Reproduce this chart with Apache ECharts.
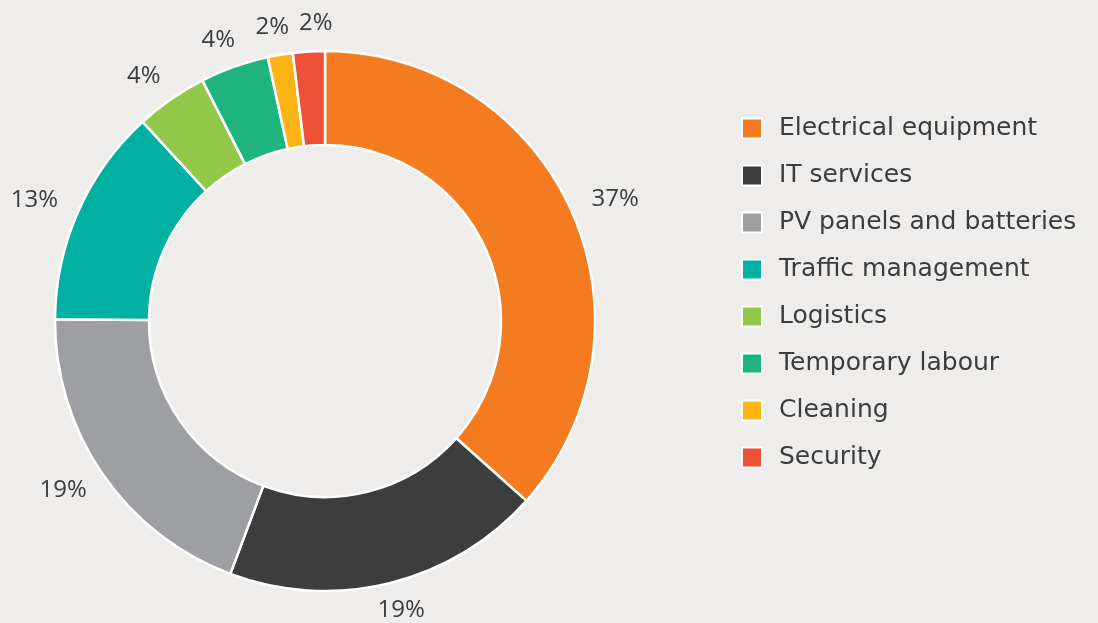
<!DOCTYPE html>
<html>
<head>
<meta charset="utf-8">
<script src="https://cdn.jsdelivr.net/npm/echarts@6/dist/echarts.min.js"></script>
<style>
html, body { margin: 0; padding: 0; background: #eeedeb; }
#main { width: 1098px; height: 623px; }
</style>
</head>
<body>
<div id="main"></div>
<script>
// categories, shares and the printed percentage labels
var categories = ['Electrical equipment', 'IT services', 'PV panels and batteries', 'Traffic management',
  'Logistics', 'Temporary labour', 'Cleaning', 'Security'];
var shares = [36.6, 19.1, 19.4, 13.1, 4.3, 4.1, 1.5, 1.9];
var shareLabels = ['37%', '19%', '19%', '13%', '4%', '4%', '2%', '2%'];
var colors = ['#f47b20', '#3d3d3d', '#9d9fa2', '#00b0a0', '#92c84a', '#1db47f', '#fdb515', '#ef5136'];

var CX = 325, CY = 321;
// labels sit on a slightly flattened ring outside the donut
var LABEL_RX = 318, LABEL_RY = 298;
var LABEL_FONT_SIZE = 24;
var LABEL_FONT = '"Open Sans", sans-serif';
var LABEL_GAP = 10;

var total = shares.reduce(function (a, b) { return a + b; }, 0);
function midDir(i) {
  var before = 0;
  for (var k = 0; k < i; k++) before += shares[k];
  var a = (before + shares[i] / 2) / total * Math.PI * 2;
  return [Math.sin(a), -Math.cos(a)];
}

var ctx = document.createElement('canvas').getContext('2d');
ctx.font = LABEL_FONT_SIZE + 'px ' + LABEL_FONT;

var labelPos = shares.map(function (v, i) {
  var d = midDir(i);
  return { x: CX + d[0] * LABEL_RX, y: CY + d[1] * LABEL_RY, w: ctx.measureText(shareLabels[i]).width };
});

// push apart labels that would collide (the right one moves right)
var order = labelPos.map(function (p, i) { return i; }).sort(function (a, b) { return labelPos[a].x - labelPos[b].x; });
for (var k = 1; k < order.length; k++) {
  var p = labelPos[order[k]];
  for (var m = 0; m < k; m++) {
    var q = labelPos[order[m]];
    if (Math.abs(q.y - p.y) < LABEL_FONT_SIZE && p.x - p.w / 2 < q.x + q.w / 2 + LABEL_GAP) {
      p.x = q.x + q.w / 2 + LABEL_GAP + p.w / 2;
    }
  }
}

var pieData = categories.map(function (name, i) {
  return {
    name: name,
    value: shares[i],
    itemStyle: { color: colors[i] },
    label: { formatter: shareLabels[i] }
  };
});

var chart = echarts.init(document.getElementById('main'));

var option = {
  backgroundColor: '#eeedeb',
  animation: false,
  legend: {
    orient: 'vertical',
    left: 741,
    top: 116,
    padding: 0,
    icon: 'rect',
    itemWidth: 20,
    itemHeight: 20,
    itemGap: 22,
    data: categories,
    textStyle: {
      fontFamily: '"DejaVu Sans", sans-serif',
      fontSize: 25,
      lineHeight: 24,
      color: '#3c3c3c',
      padding: [0, 0, 0, 12]
    }
  },
  series: [
    {
      type: 'pie',
      center: [CX, CY],
      radius: [176, 270],
      startAngle: 90,
      data: pieData,
      label: {
        show: true,
        position: 'inside',
        fontFamily: LABEL_FONT,
        fontSize: LABEL_FONT_SIZE,
        color: '#3c3c3c'
      },
      labelLine: { show: false },
      labelLayout: function (params) {
        var p = labelPos[params.dataIndex];
        return { x: p.x, y: p.y, align: 'center', verticalAlign: 'middle', hideOverlap: false };
      },
      itemStyle: { borderColor: '#ffffff', borderWidth: 2.5 },
      emphasis: { disabled: true }
    }
  ]
};

chart.setOption(option);
</script>
</body>
</html>
